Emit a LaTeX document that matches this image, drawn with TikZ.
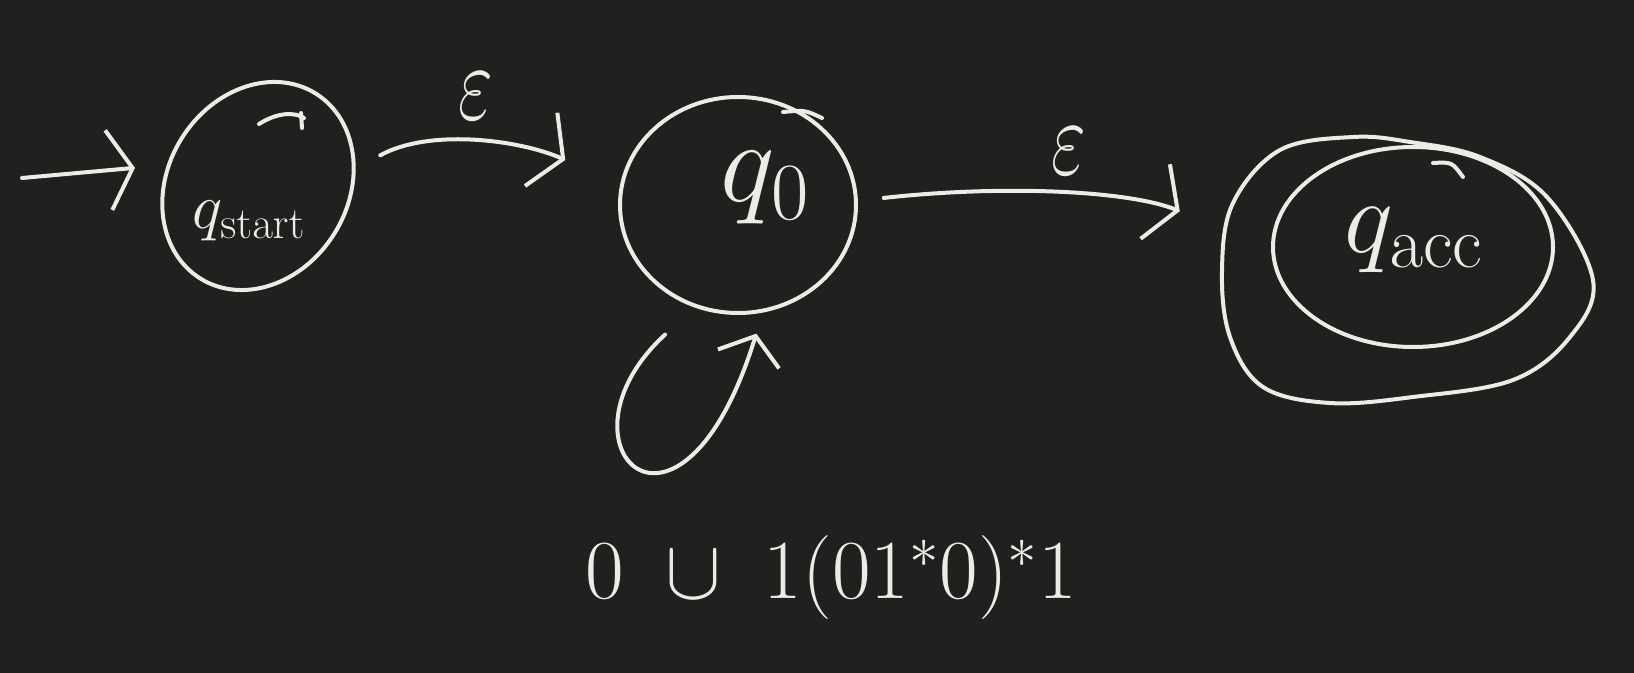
\RequirePackage{fix-cm}
\documentclass[tikz,border=0pt]{standalone}
\usetikzlibrary{shapes.geometric,arrows.meta}
\definecolor{bgc}{RGB}{33,32,30}
\definecolor{ink}{RGB}{236,235,232}
\begin{document}
\begin{tikzpicture}[x=0.5pt,y=0.5pt,
  pen/.style={draw=ink,line width=2pt,line cap=round,line join=round},
  state/.style={pen,ellipse,inner sep=0pt},
  lbl/.style={text=ink,inner sep=0pt},
  eps/.style={lbl,font=\fontsize{54}{58}\selectfont},
  edge/.style={pen,-{Straight Barb[length=12pt,width=40pt,line width=2pt]}},
  loopedge/.style={pen,-{Straight Barb[length=12pt,width=32pt,line width=2pt]}},
]
\fill[bgc] (0,0) rectangle (1634,-673);
\useasboundingbox (0,0) rectangle (1634,-673);

% states
\node[state,minimum width=90pt,minimum height=109pt,rotate=-32] (qs) at (258,-186) {};
\node[lbl,font=\fontsize{32}{34}\selectfont] (qslbl) at (249,-221) {$q_{\mathrm{start}}$};

\node[state,minimum width=118pt,minimum height=108pt] (q0) at (738,-205) {};
\node[lbl,font=\fontsize{58}{62}\selectfont] (q0lbl) at (765,-188) {$q_0$};

\node[state,minimum width=140pt,minimum height=100pt] (qacc) at (1413,-247) {};
\node[lbl,font=\fontsize{52}{56}\selectfont] (qacclbl) at (1414,-240) {$q_{\mathrm{acc}}$};
\draw[pen] plot[smooth cycle,tension=0.6] coordinates {
  (1353,-137) (1410,-142) (1480,-157) (1547,-197) (1593,-280) (1570,-337)
  (1513,-380) (1413,-397) (1330,-403) (1263,-387) (1230,-337) (1222,-270)
  (1233,-203) (1280,-150)};

% pen overlaps
\draw[pen] (259,-124) .. controls (278,-112) and (295,-112) .. (304,-118);
\draw[pen] (301,-113) -- (302,-128);
\draw[pen] (783,-112) .. controls (805,-110) .. (822,-118);
\draw[pen] (1433,-163) .. controls (1452,-162) .. (1463,-177);

% start arrow
\coordinate (in) at (22,-178);
\draw[edge,shorten >=16pt] (in) -- (qs.199);

% transitions
\draw[edge,shorten <=14pt,shorten >=30pt] (qs.42) .. controls (430,-128) and (520,-140) .. (q0.170);
\node[eps] (e1) at (476,-96) {\scalebox{0.7}[1]{$\varepsilon$}};

\draw[edge,shorten <=13pt,shorten >=49pt] (q0.2) .. controls (1000,-185) and (1126,-190) .. (qacc.west);
\node[eps] (e2) at (1069,-151) {\scalebox{0.7}[1]{$\varepsilon$}};

\draw[loopedge,shorten <=20pt,shorten >=11pt] (q0.-113) .. controls (545,-445) and (680,-580) .. (q0.-77);
\node[lbl,font=\fontsize{42}{46}\selectfont,anchor=base] (looplbl) at (831,-598) {$0\;\cup\;1(01^*0)^*1$};
\end{tikzpicture}
\end{document}
